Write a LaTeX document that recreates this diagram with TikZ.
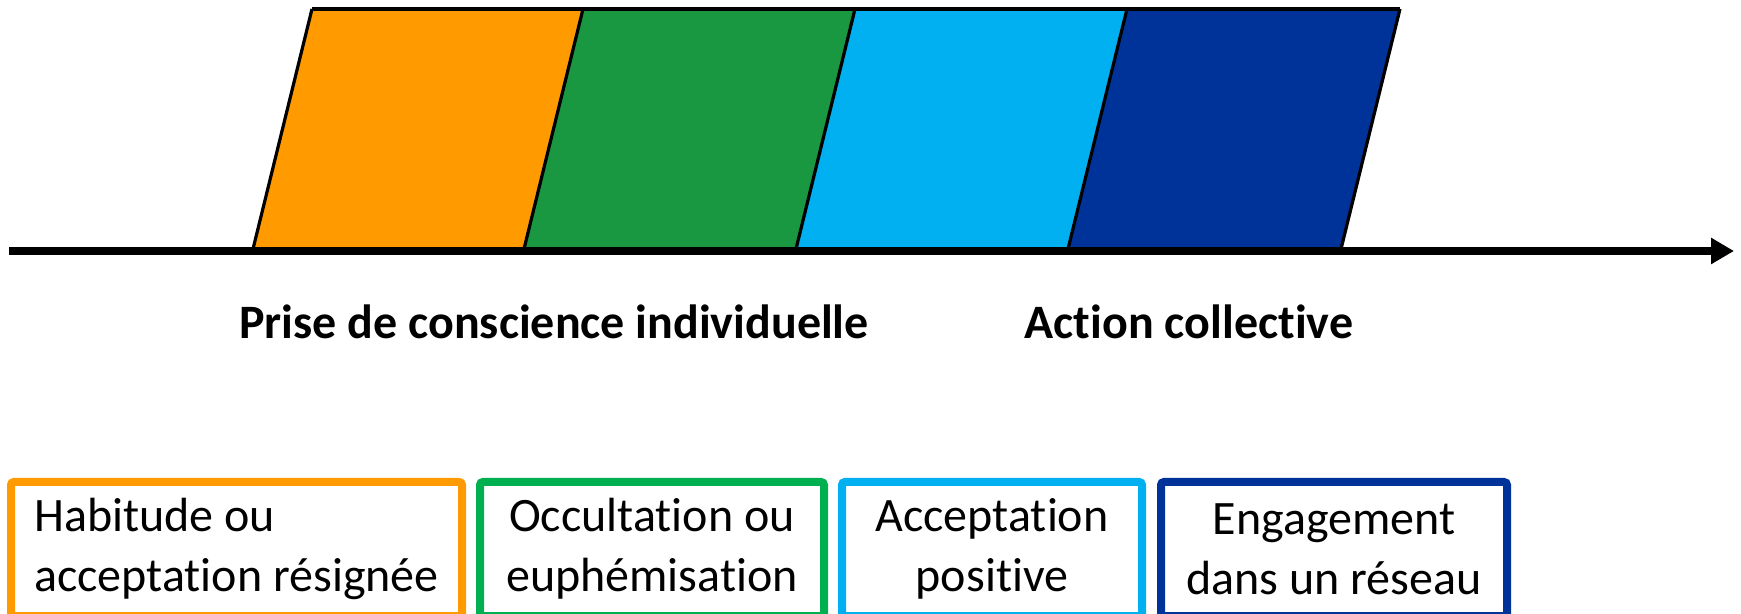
\documentclass[tikz,border=0pt]{standalone}
\usepackage{fontspec}
\setmainfont{Carlito}[Ligatures=NoCommon]
\usetikzlibrary{arrows.meta}

\definecolor{cOrange}{HTML}{FF9A00}
\definecolor{cGreen}{HTML}{1A9841}
\definecolor{cBoxGreen}{HTML}{00B050}
\definecolor{cCyan}{HTML}{00B0F0}
\definecolor{cNavy}{HTML}{003399}

\begin{document}
\begin{tikzpicture}[x=0.5pt,y=-0.5pt,
    phase/.style={draw=black,line width=1.6pt},
    stagebox/.style={draw,line width=4pt,rounded corners=1.5pt,minimum height=67pt,
        inner xsep=4pt,align=center,font=\fontsize{24}{30}\selectfont},
    milestone/.style={font=\fontsize{24}{28}\selectfont\bfseries}]
    \useasboundingbox (0,0) rectangle (1741,614);

    % bottom and top corners of the phases
    \foreach \i/\x in {0/253,1/524,2/796,3/1068,4/1341}{
        \coordinate (b\i) at (\x,249);
        \coordinate (t\i) at (\x+59,9);
    }

    \fill[cOrange] (b0) -- (t0) -- (t1) -- (b1) -- cycle;
    \fill[cGreen]  (b1) -- (t1) -- (t2) -- (b2) -- cycle;
    \fill[cCyan]   (b2) -- (t2) -- (t3) -- (b3) -- cycle;
    \fill[cNavy]   (b3) -- (t3) -- (t4) -- (b4) -- cycle;
    \draw[phase] (t0) -- (t4);
    \foreach \i in {0,...,4}{
        \draw[phase] (b\i) -- (t\i);
    }

    % time axis
    \coordinate (aStart) at (9,251);
    \coordinate (aEnd) at (1734,251);
    \draw[line width=4pt,-{Triangle[length=11.5pt,width=12.5pt]}] (aStart) -- (aEnd);

    \node[milestone] (lblIndiv) at (554,322) {Prise de conscience individuelle};
    \node[milestone] (lblColl) at (1189,322) {Action collective};

    \node[stagebox,draw=cOrange,minimum width=225.5pt,align=left] (bHab) at (236.5,549)
        {Habitude ou\\acceptation résignée};
    \node[stagebox,draw=cBoxGreen,minimum width=172pt] (bOcc) at (652,549)
        {Occultation ou\\euphémisation};
    \node[stagebox,draw=cCyan,minimum width=150pt] (bAcc) at (992,549)
        {Acceptation\\positive};
    \node[stagebox,draw=cNavy,minimum width=173pt] (bEng) at (1334,549)
        {Engagement\\dans un réseau};
\end{tikzpicture}
\end{document}
